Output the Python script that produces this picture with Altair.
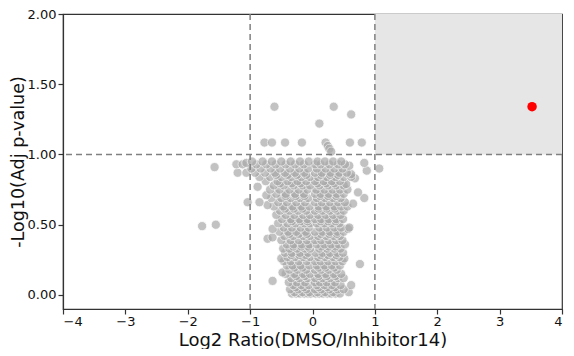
import altair as alt
import pandas as pd

# -------- data --------
# grey cloud: rows of -log10(adj p) with the log2 ratios seen on that row
row_y = [0.01, 0.02, 0.04, 0.055, 0.07, 0.09, 0.10, 0.12, 0.135, 0.15, 0.16, 0.18,
         0.195, 0.21, 0.22, 0.24, 0.26, 0.27, 0.285, 0.30, 0.33, 0.345, 0.36, 0.39,
         0.40, 0.41, 0.42, 0.435, 0.45, 0.47, 0.48, 0.51, 0.525, 0.54, 0.57, 0.60,
         0.615, 0.63, 0.64, 0.65, 0.66, 0.69, 0.705, 0.71, 0.72, 0.73, 0.75, 0.77,
         0.78, 0.79, 0.795, 0.81, 0.83, 0.84, 0.855, 0.86, 0.87, 0.885, 0.90,
         0.91, 0.92, 0.93, 0.94, 0.95]
row_x = [
    [-0.33, -0.26, -0.20, -0.13, -0.07, -0.03, 0.05, 0.11, 0.17, 0.24, 0.30, 0.37, 0.44],
    [-0.29, -0.16, -0.05, 0.08, 0.20, 0.33, 0.58],
    [-0.36, -0.23, -0.10, 0.04, 0.14, 0.27, 0.40, 0.50],
    [-0.27, -0.14, 0.10, 0.24, 0.36],
    [-0.31, -0.18, -0.06, 0.07, 0.19, 0.31, 0.45, 0.62],
    [-0.38, -0.25, -0.12, 0.04, 0.12, 0.23, 0.36],
    [-0.64],
    [-0.34, -0.21, -0.08, 0.04, 0.16, 0.28, 0.41, 0.50],
    [-0.26, -0.12, 0.10, 0.23, 0.37],
    [-0.43, -0.29, -0.15, -0.04, 0.09, 0.21, 0.34, 0.46],
    [-0.48],
    [-0.37, -0.24, -0.10, 0.04, 0.14, 0.26, 0.39],
    [-0.29, -0.16, 0.10, 0.21, 0.35],
    [-0.41, -0.32, -0.19, -0.05, 0.07, 0.19, 0.31, 0.44],
    [0.76],
    [-0.46, -0.35, -0.22, -0.09, 0.04, 0.13, 0.25, 0.37, 0.48],
    [-0.50, 0.51],
    [-0.40, -0.28, -0.15, -0.04, 0.09, 0.20, 0.33, 0.43],
    [-0.34, -0.21, -0.11, 0.13, 0.25, 0.38],
    [-0.44, -0.33, -0.20, -0.07, 0.05, 0.16, 0.28, 0.40, 0.49],
    [-0.47, -0.37, -0.25, -0.12, -0.04, 0.11, 0.23, 0.35, 0.45],
    [-0.31, -0.18, -0.07, 0.14, 0.26, 0.37],
    [-0.41, -0.30, -0.17, -0.05, 0.07, 0.19, 0.30, 0.42, 0.52],
    [-0.50, -0.35, -0.22, -0.09, 0.04, 0.14, 0.26, 0.38, 0.48],
    [-0.72],
    [-0.64],
    [-0.45, -0.31, -0.15, -0.04, 0.09, 0.22, 0.34, 0.44],
    [-0.37, -0.22, -0.09, 0.13, 0.27, 0.39],
    [-0.53, -0.39, -0.26, -0.11, 0.04, 0.16, 0.28, 0.40, 0.50],
    [-0.64, 0.57],
    [-0.46, -0.33, -0.19, -0.06, 0.11, 0.23, 0.35, 0.46, 0.59],
    [-0.55, -0.40, -0.27, -0.13, -0.04, 0.07, 0.19, 0.31, 0.43],
    [-0.33, -0.19, -0.08, 0.13, 0.25, 0.37],
    [-0.49, -0.35, -0.21, -0.08, 0.04, 0.14, 0.26, 0.38, 0.49],
    [-0.58, -0.43, -0.29, -0.15, -0.04, 0.09, 0.21, 0.33, 0.45],
    [-0.52, -0.37, -0.23, -0.10, 0.04, 0.16, 0.28, 0.40, 0.50],
    [-0.44, -0.30, -0.16, 0.10, 0.23, 0.36],
    [-0.62, -0.47, -0.32, -0.18, -0.05, 0.10, 0.22, 0.35, 0.46, 0.56],
    [-0.72],
    [0.65],
    [-1.04, -0.85, -0.55, -0.41, -0.26, -0.12, 0.04, 0.15, 0.28, 0.41, 0.52],
    [-0.66, -0.50, -0.35, -0.20, -0.07, 0.07, 0.20, 0.33, 0.45, 0.83],
    [-0.43, -0.27, -0.13, 0.12, 0.25, 0.38],
    [-0.74],
    [-0.58, -0.43, -0.28, -0.14, 0.04, 0.13, 0.26, 0.39, 0.50],
    [0.73],
    [-0.68, -0.53, -0.37, -0.22, -0.08, 0.06, 0.19, 0.32, 0.44, 0.56],
    [-0.88],
    [-0.62, -0.46, -0.30, -0.16, -0.04, 0.11, 0.25, 0.38, 0.50],
    [0.54],
    [-0.52, -0.33, -0.19, 0.08, 0.22, 0.35],
    [-0.75, -0.56, -0.40, -0.24, -0.10, 0.04, 0.18, 0.31, 0.44],
    [0.68],
    [-0.85, -0.68, -0.50, -0.34, -0.18, -0.04, 0.09, 0.23, 0.37, 0.50, 0.62],
    [-0.58, -0.40, -0.25, -0.10, 0.13, 0.28, 0.41],
    [0.62],
    [-1.20, -1.06, -0.92, -0.76, -0.60, -0.44, -0.28, -0.13, 0.04, 0.15, 0.29, 0.43, 0.55],
    [0.87],
    [-0.98, -0.83, -0.67, -0.52, -0.36, -0.21, -0.07, 0.07, 0.21, 0.35, 0.48, 1.07],
    [-1.57],
    [0.59],
    [-1.22, -1.12, -0.90, -0.74, -0.59, -0.43, -0.28, -0.14, 0.04, 0.13, 0.27, 0.41, 0.52],
    [-1.06, 0.83],
    [-0.97, -0.80, -0.65, -0.50, -0.35, -0.20, -0.06, 0.08, 0.20, 0.33, 0.46],
]
# scattered grey points away from the main cloud
extra_x = [-0.61, 0.34, 0.62, 0.11, -0.77, -0.65, -0.44, -0.17, 0.21, 0.60, 0.79,
           0.245, 0.27, 0.30, -1.77, -1.55]
extra_y = [1.34, 1.34, 1.285, 1.22, 1.085, 1.085, 1.085, 1.085, 1.085, 1.085, 1.085,
           1.06, 1.04, 1.02, 0.49, 0.50]
# the single significant protein
sig_x = [3.52]
sig_y = [1.34]
# thresholds and shaded quadrant
fc_cut = [-1, 1]
p_cut = [1]
shade = {"x": [1], "x2": [4], "y": [1], "y2": [2]}
x_ticks = [-4, -3, -2, -1, 0, 1, 2, 3, 4]
y_ticks = [0, 0.25, 0.5, 0.75, 1.0, 1.25, 1.5, 1.75, 2.0]

# -------- build tables --------
gx, gy = [], []
for yv, xs in zip(row_y, row_x):
    for xv in xs:
        gx.append(xv)
        gy.append(yv)
gx += extra_x
gy += extra_y
grey = pd.DataFrame({"x": gx, "y": gy})
sig = pd.DataFrame({"x": sig_x, "y": sig_y})
vlines = pd.DataFrame({"x": fc_cut})
hlines = pd.DataFrame({"y": p_cut})
shade_df = pd.DataFrame(shade)

FONT = "DejaVu Sans"
xscale = alt.Scale(domain=[-4, 4], nice=False, zero=False)
yscale = alt.Scale(domain=[-0.1, 2.0], nice=False, zero=False)

xaxis = alt.Axis(values=x_ticks, format="d", title="Log2 Ratio(DMSO/Inhibitor14)",
                 grid=False, tickSize=5, labelPadding=1, titlePadding=3)
yaxis = alt.Axis(values=y_ticks, format=".2f", title="-Log10(Adj p-value)",
                 grid=False, tickSize=5, labelPadding=2, titlePadding=0,
                 titleFontSize=17.5)

rect = alt.Chart(shade_df).mark_rect(color="#e6e6e6").encode(
    x=alt.X("x:Q", scale=xscale, axis=xaxis),
    x2="x2:Q",
    y=alt.Y("y:Q", scale=yscale, axis=yaxis),
    y2="y2:Q",
)

pts = alt.Chart(grey).mark_circle(
    size=85, color="#a9a9a9", opacity=0.7, stroke="white", strokeWidth=0.8
).encode(x=alt.X("x:Q", scale=xscale), y=alt.Y("y:Q", scale=yscale))

red = alt.Chart(sig).mark_circle(size=90, color="#ff0000", opacity=1).encode(
    x=alt.X("x:Q", scale=xscale), y=alt.Y("y:Q", scale=yscale)
)

vr = alt.Chart(vlines).mark_rule(color="#808080", strokeDash=[6, 4], strokeWidth=1.5).encode(
    x=alt.X("x:Q", scale=xscale)
)
hr = alt.Chart(hlines).mark_rule(color="#808080", strokeDash=[6, 4], strokeWidth=1.5).encode(
    y=alt.Y("y:Q", scale=yscale)
)

chart = alt.layer(rect, pts, red, vr, hr).properties(
    width=499, height=295,
    autosize=alt.AutoSizeParams(type="none"),
    padding={"left": 55, "top": 6, "right": 4, "bottom": 40},
    background="white",
).configure_view(
    stroke="#333333", strokeWidth=1.2
).configure_axis(
    labelFont=FONT, titleFont=FONT, labelFontSize=13, titleFontSize=18,
    labelColor="#111111", titleColor="#111111", titleFontWeight="normal",
    domainColor="#333333", tickColor="#333333", domainWidth=1.2, tickWidth=1.2,
)

chart.save("out.html", embed_options={"renderer": "svg", "actions": False})
